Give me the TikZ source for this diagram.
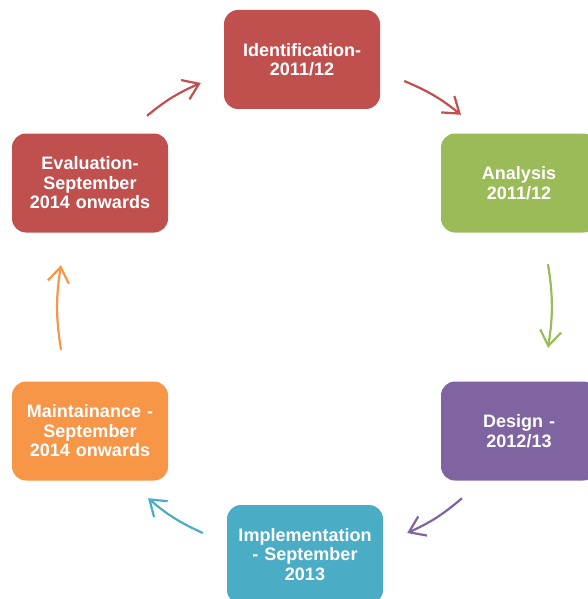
\documentclass[tikz,border=0pt]{standalone}
\usepackage{fontspec}
\setmainfont{Liberation Sans}
\usetikzlibrary{arrows.meta}
\definecolor{stagered}{HTML}{C0504D}
\definecolor{stagegreen}{HTML}{9BBB59}
\definecolor{stagepurple}{HTML}{8064A2}
\definecolor{stageaqua}{HTML}{4BACC6}
\definecolor{stageorange}{HTML}{F79646}
\tikzset{
  stage/.style={rounded corners=14pt, minimum width=156pt, minimum height=99pt,
    text width=152pt, align=center, inner sep=0pt, text=white,
    font=\bfseries\fontsize{18}{19.5}\selectfont},
  flow/.style={-{Straight Barb[length=15pt,width=21pt]}, line width=2.2pt}
}
\begin{document}
\begin{tikzpicture}[x=1pt, y=-1pt]
\useasboundingbox (0, 0) rectangle (588, 599);
\clip (0, 0) rectangle (588, 599);
\node[stage, fill=stagered] (ident) at (302, 59.5) {Identification-\\2011/12};
\node[stage, fill=stagegreen] (analysis) at (519, 183) {Analysis\\2011/12};
\node[stage, fill=stagepurple] (design) at (519, 431) {Design -\\2012/13};
\node[stage, fill=stageaqua] (impl) at (305, 554.5) {Implementation\\- September\\2013};
\node[stage, fill=stageorange] (maint) at (90, 431) {Maintainance -\\September\\2014 onwards};
\node[stage, fill=stagered] (eval) at (90, 183) {Evaluation-\\September\\2014 onwards};
\draw[flow, stagered] ([shift={(24, 21.5)}]ident.east) to[bend left=8] ([shift={(-58, -18.5)}]analysis.north);
\draw[flow, stagegreen] ([shift={(29, 31.5)}]analysis.south) to[bend left=9] ([shift={(29, -33.5)}]design.north);
\draw[flow, stagepurple] ([shift={(-57, 17.5)}]design.south) to[bend left=8] ([shift={(24, -21.5)}]impl.east);
\draw[flow, stageaqua] ([shift={(-24, -21.5)}]impl.west) to[bend left=8] ([shift={(58, 17.5)}]maint.south);
\draw[flow, stageorange] ([shift={(-29, -31.5)}]maint.north) to[bend left=9] ([shift={(-29, 32.5)}]eval.south);
\draw[flow, stagered] ([shift={(57, -17.5)}]eval.north) to[bend left=8] ([shift={(-23, 23.5)}]ident.west);
\end{tikzpicture}
\end{document}
